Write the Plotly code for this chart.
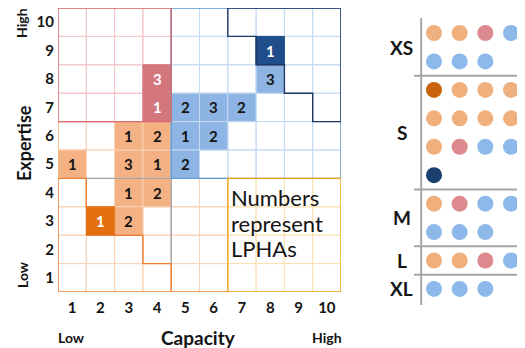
import plotly.graph_objects as go

# the page is 525x348, the html body adds an 8px margin around the figure
PAGE_W, PAGE_H = 525, 348
OFF = 8
W, H = PAGE_W - OFF, PAGE_H - OFF

# cells holding LPHAs: capacity (x), expertise (y), number of LPHAs, colour group
cell_capacity = [1, 3, 4, 3, 4, 3, 4, 2, 3, 4, 4, 5, 6, 7, 5, 6, 5, 8, 8]
cell_expertise = [5, 5, 5, 6, 6, 4, 4, 3, 3, 7, 8, 7, 7, 7, 6, 6, 5, 8, 9]
cell_count = [1, 3, 1, 1, 2, 1, 2, 1, 2, 1, 3, 2, 3, 2, 1, 2, 2, 3, 1]
cell_group = ['o', 'o', 'o', 'o', 'o', 'o', 'o', 'do', 'o', 'r', 'r',
              'b', 'b', 'b', 'b', 'b', 'b', 'b', 'n']

levels = list(range(1, 11))

# size groups on the right, one colour code per LPHA
size_labels = ['XS', 'S', 'M', 'L', 'XL']
xs_dots = ['o', 'o', 'r', 'b', 'b', 'b', 'b']
s_dots = ['do', 'o', 'o', 'o', 'o', 'o', 'o', 'o', 'o', 'r', 'b', 'b', 'n']
m_dots = ['o', 'r', 'b', 'b', 'b', 'b', 'b']
l_dots = ['o', 'o', 'r', 'b']
xl_dots = ['b', 'b', 'b']

cell_fill = {'o': '#F4B183', 'do': '#E2700F', 'r': '#D4777D', 'b': '#8DB4E2', 'n': '#1F4E8A'}
dot_fill = {'o': '#F0B07E', 'do': '#C8640C', 'r': '#DC8A8F', 'b': '#8DB9EA', 'n': '#1B3F6C'}
white_text = ['do', 'r', 'n']

FONT = 'Lato'
TXT = '#141414'


def px_x(p):
    return (p - OFF) / W


def px_y(p):
    return 1 - (p - OFF) / H


def region(c, r):
    if c <= 4 and r >= 7:
        return '#F2C6C8'
    if c >= 5 and r >= 5:
        return '#C6DAF2'
    if c >= 7 and r <= 4:
        return '#FBE2B4'
    return '#FAD3B6'


fig = go.Figure()
shapes = []
annotations = []

# light grid
for c in levels:
    for r in levels:
        shapes.append(dict(type='rect', xref='x', yref='y', x0=c - 0.5, x1=c + 0.5,
                           y0=r - 0.5, y1=r + 0.5, line=dict(color=region(c, r), width=1)))

# filled cells
for c, r, n, g in zip(cell_capacity, cell_expertise, cell_count, cell_group):
    shapes.append(dict(type='rect', xref='x', yref='y', x0=c - 0.5, x1=c + 0.5,
                       y0=r - 0.5, y1=r + 0.5, fillcolor=cell_fill[g],
                       line=dict(color=region(c, r) if g in ('o', 'b') else cell_fill[g], width=1)))
    annotations.append(dict(x=c, y=r, xref='x', yref='y', text=str(n), showarrow=False,
                            xanchor='center', yanchor='middle',
                            font=dict(family=FONT, size=15, weight='bold',
                                      color='white' if g in white_text else TXT)))

# region outlines
def path(pts, color, width=1.4):
    d = 'M ' + ' L '.join(f'{x} {y}' for x, y in pts)
    return dict(type='path', xref='x', yref='y', path=d, line=dict(color=color, width=width))


shapes.append(path([(0.5, 4.5), (0.5, 6.5), (4.5, 6.5)], '#F4B183'))
shapes.append(path([(4.5, 0.5), (6.5, 0.5)], '#ED7D31'))
shapes.append(path([(0.5, 4.5), (1.5, 4.5), (1.5, 3.5), (2.5, 3.5), (2.5, 2.5), (3.5, 2.5),
                    (3.5, 1.5), (4.5, 1.5), (4.5, 0.5), (0.5, 0.5), (0.5, 4.5)], '#ED7D31'))
shapes.append(path([(1.5, 4.5), (4.5, 4.5), (4.5, 1.5)], '#A6A6A6'))
shapes.append(path([(4.5, 4.5), (10.5, 4.5), (10.5, 10.5), (4.5, 10.5), (4.5, 4.5)], '#5B9BD5'))
shapes.append(path([(6.5, 0.5), (10.5, 0.5), (10.5, 4.5), (6.5, 4.5), (6.5, 0.5)], '#F2A516'))
shapes.append(path([(0.5, 6.5), (4.5, 6.5), (4.5, 10.5), (0.5, 10.5), (0.5, 6.5)], '#D6686F'))
shapes.append(path([(6.5, 10.5), (6.5, 9.5), (7.5, 9.5), (7.5, 8.5), (8.5, 8.5), (8.5, 7.5),
                    (9.5, 7.5), (9.5, 6.5), (10.5, 6.5), (10.5, 10.5), (6.5, 10.5)], '#1F3864'))

# invisible trace so the grid axes exist
fig.add_trace(go.Scatter(x=[1], y=[1], mode='markers', marker=dict(opacity=0),
                         hoverinfo='skip', showlegend=False))

# dots panel
dot_x, dot_y, dot_c = [], [], []
label_y, sep_y = [], []
row = 0
for label, dots in zip(size_labels, [xs_dots, s_dots, m_dots, l_dots, xl_dots]):
    nrows = (len(dots) + 3) // 4
    for i, d in enumerate(dots):
        dot_x.append(i % 4 + 1)
        dot_y.append(-(row + i // 4))
        dot_c.append(dot_fill[d])
    label_y.append(-(row + (nrows - 1) / 2))
    row += nrows
    sep_y.append(-(row - 0.5))

fig.add_trace(go.Scatter(x=dot_x, y=dot_y, mode='markers', xaxis='x2', yaxis='y2',
                         marker=dict(size=16, color=dot_c, line=dict(width=0)),
                         hoverinfo='skip', showlegend=False))

for label, ly in zip(size_labels, label_y):
    annotations.append(dict(x=px_x(401.5), xref='paper', y=ly, yref='y2', text=label,
                            xanchor='center', yanchor='middle', showarrow=False,
                            font=dict(family=FONT, size=19, weight='bold', color=TXT)))
for sy in sep_y[:-1]:
    shapes.append(dict(type='line', xref='x2', yref='y2', x0=0.22, x1=4.5, y0=sy, y1=sy,
                       line=dict(color='#A6A6A6', width=2)))
shapes.append(dict(type='line', xref='x2', yref='y2', x0=0.5, x1=0.5, y0=0.53, y1=-9.56,
                   line=dict(color='#A6A6A6', width=2)))

# axis words
bold = dict(family=FONT, weight='bold', color=TXT)
words = [('Expertise', 24, 143, 18, -90), ('High', 22, 23, 14, -90), ('Low', 22, 275, 14, -90),
         ('Low', 71, 337, 14, 0), ('Capacity', 198, 337, 19, 0), ('High', 327, 337, 14, 0)]
for txt, x, y, size, ang in words:
    annotations.append(dict(x=px_x(x), y=px_y(y), xref='paper', yref='paper', text=txt,
                            textangle=ang, xanchor='center', yanchor='middle', showarrow=False,
                            font=dict(size=size, **bold)))
for txt, py in zip(['Numbers', 'represent', 'LPHAs'], [197, 223, 248]):
    annotations.append(dict(x=px_x(229), y=px_y(py), xref='paper', yref='paper', text=txt,
                            xanchor='left', yanchor='middle', showarrow=False,
                            font=dict(family=FONT, size=22, color=TXT)))

# dot panel scale: columns 25.67px apart starting at 434px, rows 28.44px apart starting at 33px
col_px, row_px = 25.67, 28.44
x2_range = [0, 4.5]
y2_range = [-10, 0.7]

axis_common = dict(showgrid=False, zeroline=False, showline=False, ticks='', automargin=False)
fig.update_layout(
    width=W, height=H, margin=dict(l=0, r=0, t=0, b=0),
    paper_bgcolor='white', plot_bgcolor='white',
    shapes=shapes, annotations=annotations,
    xaxis=dict(domain=[px_x(58), px_x(341)], range=[0.5, 10.5], tickvals=levels,
               ticklabelstandoff=5, tickfont=dict(family=FONT, size=15, weight='bold', color=TXT),
               **axis_common),
    yaxis=dict(domain=[px_y(292), px_y(8)], range=[0.5, 10.5], tickvals=levels,
               ticklabelstandoff=3, tickfont=dict(family=FONT, size=15, weight='bold', color=TXT),
               **axis_common),
    xaxis2=dict(domain=[px_x(434 - col_px), px_x(434 + (x2_range[1] - 1) * col_px)],
                range=x2_range, anchor='y2', visible=False, automargin=False),
    yaxis2=dict(domain=[px_y(33 - y2_range[0] * row_px), px_y(33 - y2_range[1] * row_px)],
                range=y2_range, anchor='x2', visible=False, automargin=False),
)

fig.write_html('out.html')
